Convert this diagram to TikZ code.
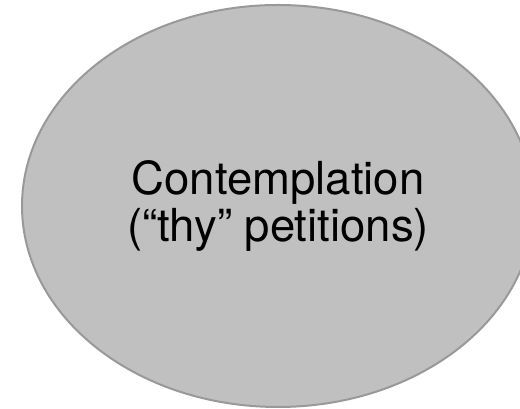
\documentclass[tikz,border=0pt]{standalone}
\usepackage{fontspec}
\setmainfont{TeX Gyre Heros}
\usetikzlibrary{shapes.geometric}

\definecolor{blobfill}{HTML}{C0C0C0}
\definecolor{blobline}{HTML}{999999}

\begin{document}
\begin{tikzpicture}[x=1pt,y=1pt,
    blob/.style={ellipse,draw=blobline,fill=blobfill,line width=2pt,
      minimum width=512pt,minimum height=402pt,inner sep=0pt,
      align=center,font=\fontsize{45.5}{47}\selectfont}]
    \clip (0,0) rectangle (520,409);
    \useasboundingbox (0,0) rectangle (520,409);
    \node[blob] (contemplation) at (278,203) {Contemplation\\(“thy” petitions)};
  \end{tikzpicture}
\end{document}
